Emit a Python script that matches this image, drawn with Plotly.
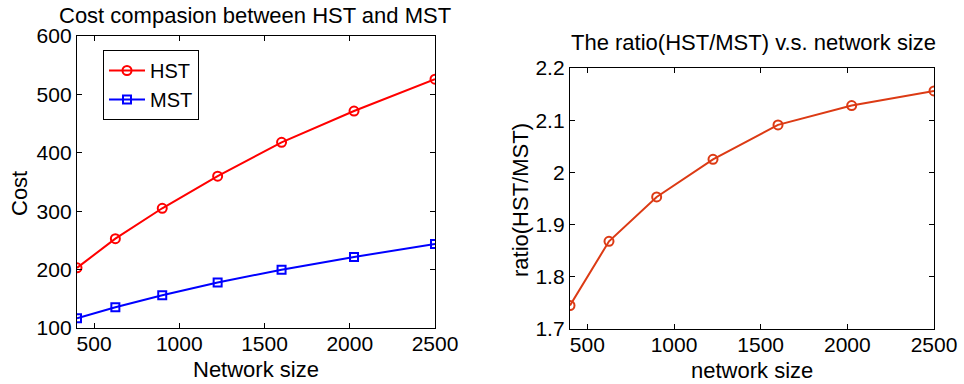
import plotly.graph_objects as go

network_size = [400, 625, 900, 1225, 1600, 2025, 2500]
hst_cost = [203, 253, 305, 360, 418, 471.5, 526]
mst_cost = [116.5, 135.4, 156.2, 177.8, 199.9, 221.6, 244]
ratio = [1.745, 1.868, 1.953, 2.025, 2.091, 2.128, 2.156]

x_ticks = [500, 1000, 1500, 2000, 2500]
left_y_ticks = [100, 200, 300, 400, 500, 600]
right_y_ticks = [1.7, 1.8, 1.9, 2.0, 2.1, 2.2]
right_y_labels = ["1.7", "1.8", "1.9", "2", "2.1", "2.2"]

FONT = "Liberation Sans, Arial, Helvetica, sans-serif"
W, H = 964, 384

fig = go.Figure()
fig.add_trace(go.Scatter(
    x=network_size, y=hst_cost, name="HST", mode="lines+markers",
    line=dict(color="#ff0000", width=2),
    marker=dict(symbol="circle-open", size=9, color="#ff0000", line=dict(width=2)),
    xaxis="x", yaxis="y"))
fig.add_trace(go.Scatter(
    x=network_size, y=mst_cost, name="MST", mode="lines+markers",
    line=dict(color="#0000ff", width=2),
    marker=dict(symbol="square-open", size=8, color="#0000ff", line=dict(width=2)),
    xaxis="x", yaxis="y"))
fig.add_trace(go.Scatter(
    x=network_size, y=ratio, name="ratio", mode="lines+markers", showlegend=False,
    line=dict(color="#dc3a14", width=2),
    marker=dict(symbol="circle-open", size=9, color="#dc3a14", line=dict(width=2)),
    xaxis="x2", yaxis="y2"))

axis_common = dict(
    showline=True, linecolor="black", linewidth=1.3, mirror="ticks",
    ticks="inside", ticklen=5, tickcolor="black", tickwidth=1,
    showgrid=False, zeroline=False, automargin=False,
    tickfont=dict(family=FONT, size=21, color="black"),
)

def px_x(p):
    return p / W

def px_y(p):
    return 1 - p / H

fig.update_layout(
    template="none",
    width=W, height=H,
    margin=dict(l=0, r=0, t=0, b=0, pad=0),
    paper_bgcolor="white", plot_bgcolor="white",
    font=dict(family=FONT, color="black"),
    xaxis=dict(domain=[px_x(77), px_x(435)], range=[400, 2500], tickvals=x_ticks,
               anchor="y", ticklabelstandoff=-3, **axis_common),
    yaxis=dict(domain=[px_y(328), px_y(36)], range=[100, 600], tickvals=left_y_ticks,
               anchor="x", **axis_common),
    xaxis2=dict(domain=[px_x(570), px_x(934)], range=[400, 2500], tickvals=x_ticks,
                anchor="y2", ticklabelstandoff=-3, **axis_common),
    yaxis2=dict(domain=[px_y(329), px_y(68)], range=[1.7, 2.2], tickvals=right_y_ticks,
                ticktext=right_y_labels, anchor="x2", **axis_common),
    legend=dict(
        x=px_x(103), y=px_y(50), xanchor="left", yanchor="top",
        bgcolor="white", bordercolor="black", borderwidth=1,
        font=dict(family=FONT, size=20, color="black"),
        itemwidth=36, tracegroupgap=0,
    ),
    showlegend=True,
)

annotations = [
    dict(text="Cost compasion between HST and MST", x=px_x(255), y=px_y(16),
         font=dict(size=22)),
    dict(text="The ratio(HST/MST) v.s. network size", x=px_x(753), y=px_y(42),
         font=dict(size=22)),
    dict(text="Network size", x=px_x(256), y=px_y(369), font=dict(size=22)),
    dict(text="network size", x=px_x(752), y=px_y(370), font=dict(size=22)),
    dict(text="Cost", x=px_x(19), y=px_y(194), textangle=-90, font=dict(size=22)),
    dict(text="ratio(HST/MST)", x=px_x(520), y=px_y(200), textangle=-90, font=dict(size=22)),
]
for a in annotations:
    a.update(xref="paper", yref="paper", showarrow=False, xanchor="center", yanchor="middle")
    a["font"].update(family=FONT, color="black")
fig.update_layout(annotations=annotations)

fig.write_html("out.html")
